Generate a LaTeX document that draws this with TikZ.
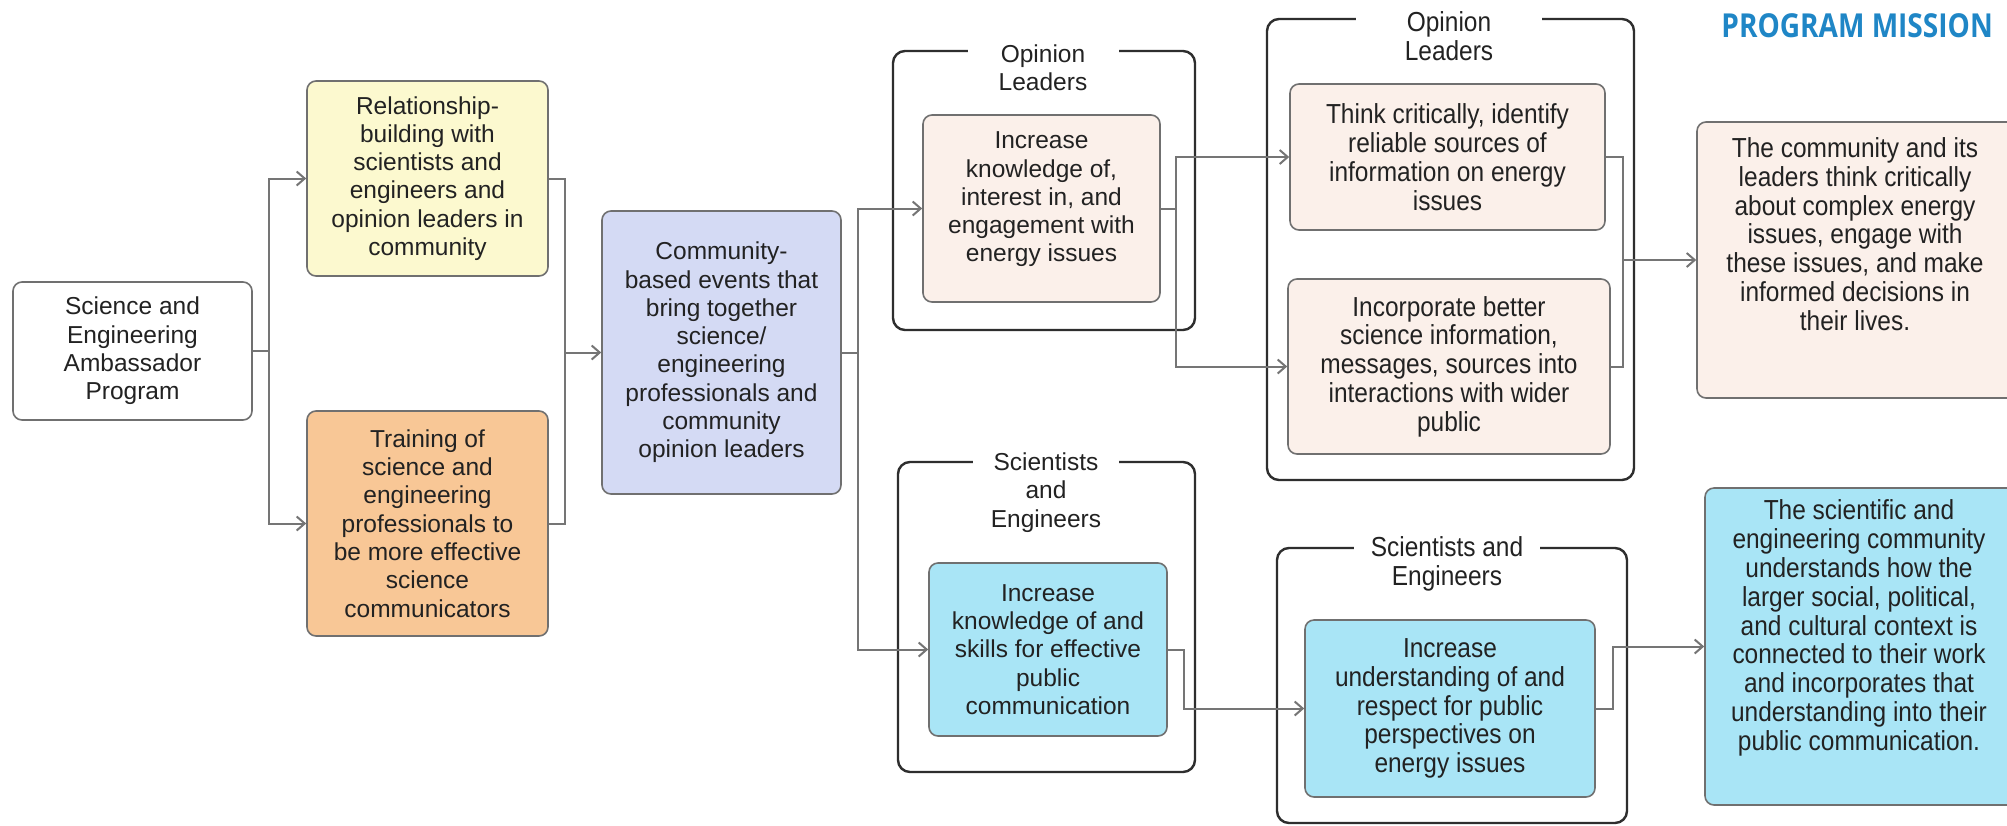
\documentclass[tikz,border=0pt]{standalone}
\usepackage{fontspec}
\setmainfont{Liberation Sans}
\newfontfamily\narrowfam[FakeStretch=0.89]{Liberation Sans}
\newfontfamily\headfam[FakeStretch=0.85]{Open Sans}
\usetikzlibrary{arrows.meta}
\definecolor{txtcol}{HTML}{222222}
\definecolor{boxline}{HTML}{707070}
\definecolor{frameline}{HTML}{2E2E2E}
\definecolor{connline}{HTML}{757575}
\definecolor{yelfill}{HTML}{FCF9CF}
\definecolor{orgfill}{HTML}{F8C796}
\definecolor{commfill}{HTML}{D4DAF4}
\definecolor{beigefill}{HTML}{FBF0EA}
\definecolor{cyanfill}{HTML}{A9E5F6}
\definecolor{headblue}{HTML}{1F86C6}
\newcommand\regfont{\fontsize{24.5}{28.3}\selectfont}
\newcommand\narfont{\narrowfam\fontsize{27.5}{28.8}\selectfont}
\tikzset{
  box/.style={draw=boxline, line width=1.6pt, rounded corners=9pt, inner sep=0pt, align=center, text=txtcol, font=\regfont},
  nbox/.style={box, font=\narfont},
  txt/.style={align=center, text=txtcol, font=\regfont, inner sep=0pt},
  ntxt/.style={txt, font=\narfont},
  frame/.style={draw=frameline, line width=2.4pt, rounded corners=12pt, inner sep=0pt},
  ftitle/.style={fill=white, inner xsep=0pt, inner ysep=2pt, align=center, text=txtcol},
  conn/.style={draw=connline, line width=2pt},
  arr/.style={conn, -{Straight Barb[length=8pt,width=14pt]}},
}
\begin{document}
\begin{tikzpicture}[x=1pt,y=-1pt]
\useasboundingbox (0,0) rectangle (2007,825);
\fill[white] (0,0) rectangle (2007,825);

% frames
\node[frame, minimum width=302pt, minimum height=279pt] (f1) at (1044,190.5) {};
\node[frame, minimum width=367pt, minimum height=461pt] (f2) at (1450.5,249.5) {};
\node[frame, minimum width=297pt, minimum height=310pt] (f3) at (1046.5,617) {};
\node[frame, minimum width=350pt, minimum height=275pt] (f4) at (1452,685.5) {};

\node[ftitle, font=\regfont, minimum width=151pt] (t1) at (1043,67.5) {Opinion\\Leaders};
\node[ftitle, font=\narfont, minimum width=186pt] (t2) at (1449,36) {Opinion\\Leaders};
\node[ftitle, font=\regfont, minimum width=146pt] (t3) at (1046,492.5) {Scientists\\and\\Engineers};
\node[ftitle, font=\narfont, minimum width=186pt] (t4) at (1447,564) {Scientists and\\Engineers};

% boxes
\node[box, fill=white, minimum width=239pt, minimum height=138pt] (prog) at (132.5,351)
  {Science and\\Engineering\\Ambassador\\Program};
\node[box, fill=yelfill, minimum width=241pt, minimum height=195pt] (yel) at (427.5,178.5)
  {Relationship-\\building with\\scientists and\\engineers and\\opinion leaders in\\community};
\node[box, fill=orgfill, minimum width=241pt, minimum height=225pt] (org) at (427.5,523.5)
  {Training of\\science and\\engineering\\professionals to\\be more effective\\science\\communicators};
\node[box, fill=commfill, minimum width=239pt, minimum height=283pt] (comm) at (721.5,352.5)
  {Community-\\based events that\\bring together\\science/\\engineering\\professionals and\\community\\opinion leaders};

\node[box, fill=beigefill, minimum width=237pt, minimum height=187pt] (ol1) at (1041.5,208.5) {};
\node[txt] (ol1t) at (1041.5,199.5) {Increase\\knowledge of,\\interest in, and\\engagement with\\energy issues};

\node[nbox, fill=beigefill, minimum width=315pt, minimum height=146pt] (think) at (1447.5,157)
  {Think critically, identify\\reliable sources of\\information on energy\\issues};
\node[nbox, fill=beigefill, minimum width=322pt, minimum height=175pt] (inc) at (1449,366.5)
  {Incorporate better\\science information,\\messages, sources into\\interactions with wider\\public};

\node[box, fill=beigefill, minimum width=323pt, minimum height=276pt] (m1) at (1858.5,260) {};
\node[ntxt] (m1t) at (1855,234) {The community and its\\leaders think critically\\about complex energy\\issues, engage with\\these issues, and make\\informed decisions in\\their lives.};

\node[box, fill=cyanfill, minimum width=238pt, minimum height=173pt] (se1) at (1048,649.5)
  {Increase\\knowledge of and\\skills for effective\\public\\communication};
\node[nbox, fill=cyanfill, minimum width=290pt, minimum height=177pt] (se2) at (1450,708.5)
  {Increase\\understanding of and\\respect for public\\perspectives on\\energy issues};

\node[box, fill=cyanfill, minimum width=315pt, minimum height=317pt] (m2) at (1862.5,646.5) {};
\node[ntxt] (m2t) at (1859,628) {The scientific and\\engineering community\\understands how the\\larger social, political,\\and cultural context is\\connected to their work\\and incorporates that\\understanding into their\\public communication.};

\node[anchor=base east, inner sep=0pt, text=headblue, font=\headfam\bfseries\fontsize{33}{36}\selectfont] (head) at (1993,37) {PROGRAM MISSION};

% connectors
\draw[conn] (prog.east) -- ++(16,0) coordinate (j0);
\draw[arr] (j0) |- (yel.west);
\draw[arr] (j0) |- (org.west);

\draw[conn] (yel.east) -- ++(16,0) coordinate (j1) |- (org.east);
\draw[arr] (j1 |- comm.west) -- (comm.west);

\draw[conn] (comm.east) -- ++(16,0) coordinate (j2);
\draw[arr] (j2) |- (ol1.west);
\draw[arr] (j2) |- (se1.west);

\draw[conn] (ol1.east) -- ++(15,0) coordinate (j3);
\draw[arr] (j3) |- (think.west);
\draw[arr] (j3) |- (inc.west);

\draw[conn] (think.east) -- ++(17,0) coordinate (j4) |- (inc.east);
\draw[arr] (j4 |- m1.west) -- (m1.west);

\draw[arr] (se1.east) -- ++(16,0) |- (se2.west);
\draw[arr] (se2.east) -- ++(17,0) |- (m2.west);
\end{tikzpicture}
\end{document}
